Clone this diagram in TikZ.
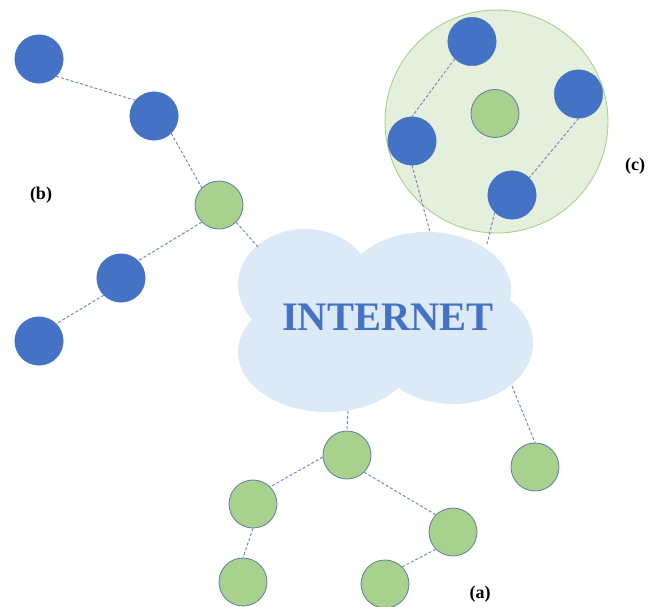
\documentclass[tikz,border=0pt]{standalone}
\usepackage{fontspec}
\setmainfont{Liberation Serif}
\definecolor{nodeblue}{HTML}{4472C4}
\definecolor{nodegreen}{HTML}{A9D18E}
\definecolor{ringedge}{HTML}{A9D18E}
\definecolor{ringfill}{HTML}{E5F0DC}
\definecolor{cloudfill}{HTML}{DCE9F6}
\definecolor{greenedge}{HTML}{5A7FA0}
\definecolor{linkcol}{HTML}{6F8CC4}
\tikzset{
  x=1pt,y=-1pt,
  bluenode/.style={circle,draw=nodeblue,fill=nodeblue,line width=0.4pt,minimum size=48.5pt,inner sep=0pt},
  greennode/.style={circle,draw=greenedge,fill=nodegreen,line width=0.8pt,minimum size=48pt,inner sep=0pt},
  link/.style={draw=linkcol,line width=1pt,dash pattern=on 3pt off 2pt},
  lobe/.style={fill=cloudfill,draw=none},
  tag/.style={font=\bfseries\fontsize{18}{20}\selectfont,text=black,inner sep=0pt},
}
\begin{document}
\begin{tikzpicture}
\useasboundingbox (0,0) rectangle (659,606);
% ring
\node[circle,draw=ringedge,fill=ringfill,line width=0.9pt,minimum size=223pt,inner sep=0pt] (ring) at (496.5,121.5) {};
% cloud
\fill[lobe] (305,285) ellipse [x radius=67,y radius=56];
\fill[lobe] (427,290) ellipse [x radius=84,y radius=58];
\fill[lobe] (453,343) ellipse [x radius=80,y radius=61];
\fill[lobe] (327,352) ellipse [x radius=89,y radius=60];
\fill[lobe] (385,320) ellipse [x radius=110,y radius=55];
\node[font=\bfseries\fontsize{40.5}{44}\selectfont,text=nodeblue,inner sep=0pt] (net) at (388,317) {INTERNET};
% cloud attachment points
\coordinate (cb) at (258,247);
\coordinate (cc1) at (430,232);
\coordinate (cc2) at (487,244);
\coordinate (ca1) at (348,411);
\coordinate (ca2) at (512,386);
% nodes
\node[bluenode] (b1) at (39,59) {};
\node[bluenode] (b2) at (154,116) {};
\node[greennode] (b0) at (219,205) {};
\node[bluenode] (b3) at (121,278) {};
\node[bluenode] (b4) at (39,341) {};
\node[bluenode] (c1) at (472,41.5) {};
\node[bluenode] (c2) at (578.5,94) {};
\node[greennode] (c0) at (495,113.5) {};
\node[bluenode] (c3) at (412,141) {};
\node[bluenode] (c4) at (512,195) {};
\node[greennode] (a1) at (347,455) {};
\node[greennode] (a2) at (253,504) {};
\node[greennode] (a3) at (453,532) {};
\node[greennode] (a4) at (243,582) {};
\node[greennode] (a5) at (385,584) {};
\node[greennode] (a6) at (535,467) {};
% connectors
\draw[link] (b1.south east) -- (b2.140);
\draw[link] (b2.south east) -- (b0.north west);
\draw[link] (b0.south west) -- (b3.north east);
\draw[link] (b3.south west) -- (b4.north east);
\draw[link] (b0.south east) -- (cb);
\draw[link] (c1.south west) -- (c3.north);
\draw[link] (c2.south) -- (c4.north east);
\draw[link] (c3.south) -- (cc1);
\draw[link] (c4.south west) -- (cc2);
\draw[link] (ca1) -- (a1.north);
\draw[link] (ca2) -- (a6.north);
\draw[link] (a1.185) -- (a2.north east);
\draw[link] (a1.south east) -- (a3.north west);
\draw[link] (a2.south) -- (a4.north);
\draw[link] (a3.south west) -- (a5.north east);
% labels
\node[tag] (lb) at (41,195.5) {(b)};
\node[tag] (lc) at (635,166.5) {(c)};
\node[tag] (la) at (480,594) {(a)};
\end{tikzpicture}
\end{document}
